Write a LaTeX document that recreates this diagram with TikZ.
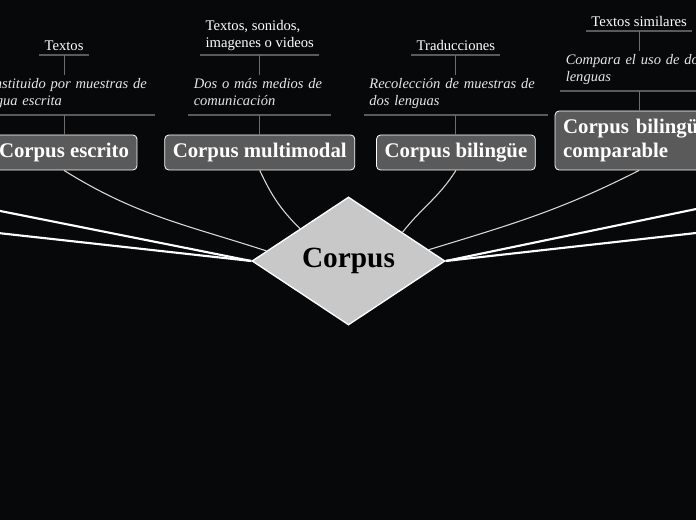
\documentclass[tikz,border=0pt]{standalone}
\usepackage{fontspec}
\setmainfont{Liberation Serif}
\usetikzlibrary{shapes.geometric, positioning}
\definecolor{bgdark}{HTML}{07080A}
\definecolor{boxgray}{HTML}{5A5A5A}
\definecolor{linegray}{HTML}{5A5A5A}
\definecolor{stemgray}{HTML}{6E6E6E}
\definecolor{dialight}{HTML}{C8C8C8}
\definecolor{txtlight}{HTML}{E6E6E6}
\tikzset{
  box/.style = {
    rectangle, rounded corners=3pt,
    draw=white, line width=0.6pt, fill=boxgray, text=white,
    minimum height=26.25pt, inner xsep=6pt,
    font=\fontsize{15.6}{18}\selectfont\bfseries
  },
  dbox/.style = {
    diamond, aspect=1.5,
    draw=white, line width=1pt, fill=dialight, text=black,
    minimum width=144.75pt, minimum height=96pt, inner sep=0pt,
    font=\fontsize{22}{26}\selectfont\bfseries
  },
  desc/.style = {
    align=left, text=txtlight,
    inner xsep=3.75pt, inner ysep=2.5pt,
    execute at end node=\strut,
    font=\fontsize{10.9}{12.75}\selectfont\itshape
  },
  tbox/.style = {
    align=left, text=white, inner xsep=3.75pt,
    font=\fontsize{11}{12.75}\selectfont
  },
  uline/.style = {draw=linegray, line width=1.5pt},
  vline/.style = {draw=stemgray, line width=0.75pt},
  lnk/.style   = {draw=white!85!black, line width=0.8pt},
  blnk/.style  = {draw=white, line width=1.6pt}
}

\begin{document}
\begin{tikzpicture}[x=0.75pt, y=-0.75pt, node distance=15pt]

\fill[bgdark] (0,0) rectangle (696,520);
\useasboundingbox (0,0) rectangle (696,520);
\clip (0,0) rectangle (696,520);

\node[dbox] (dia) at (348.5,261) {Corpus};

\node[box] (esc) at (64,152.5) {Corpus escrito};
\node[box, right=20.25pt of esc] (mm) {Corpus multimodal};
\node[box, right=15.75pt of mm] (bil) {Corpus bilingüe};
\node[box, right=14.25pt of bil.south east, anchor=south west,
      align=left, text width=114pt, minimum height=44.25pt] (cmp)
      {Corpus bilingüe\\comparable};

\node[desc, text width=129pt, above=of esc] (de)
      {Constituido por muestras de\\lengua escrita};
\node[desc, text width=99pt, above=of mm] (dm)
      {Dos o más medios de\\comunicación};
\node[desc, text width=129.75pt, above=of bil] (db)
      {Recolección de muestras de\\dos lenguas};
\node[desc, text width=110pt, above=of cmp] (dc)
      {Compara el uso de dos\\lenguas};

\node[tbox, above=of de] (te) {Textos};
\node[tbox, above=of dm] (tm) {Textos, sonidos,\\imagenes o videos};
\node[tbox, above=of db] (tb) {Traducciones};
\node[tbox, above=of dc] (tc) {Textos similares};

\foreach \n in {te, tm, tb, tc, de, dm, db, dc}
  \draw[uline] (\n.south west) -- (\n.south east);

\foreach \x/\y in {te/de, tm/dm, tb/db, tc/dc, de/esc, dm/mm, db/bil, dc/cmp}
  \draw[vline] (\x.south) -- (\x.south |- \y.north);

% branches leaving the picture
\coordinate (ol1) at (-60,199);
\coordinate (ol2) at (-60,226.6);
\coordinate (or1) at (756,196.6);
\coordinate (or2) at (756,226.3);
\foreach \c/\a in {ol1/west, ol2/west, or1/east, or2/east}
  \draw[blnk] (\c) -- (dia.\a);

\draw[lnk] (esc.south) to[out=-32, in=162] (dia.173);
\draw[lnk] (mm.south)  to[out=-65, in=135] (dia.north west);
\draw[lnk] (bil.south) to[out=-122, in=52] (dia.28);
\draw[lnk] (cmp.south) to[out=-153, in=17] (dia.8);

\end{tikzpicture}
\end{document}
